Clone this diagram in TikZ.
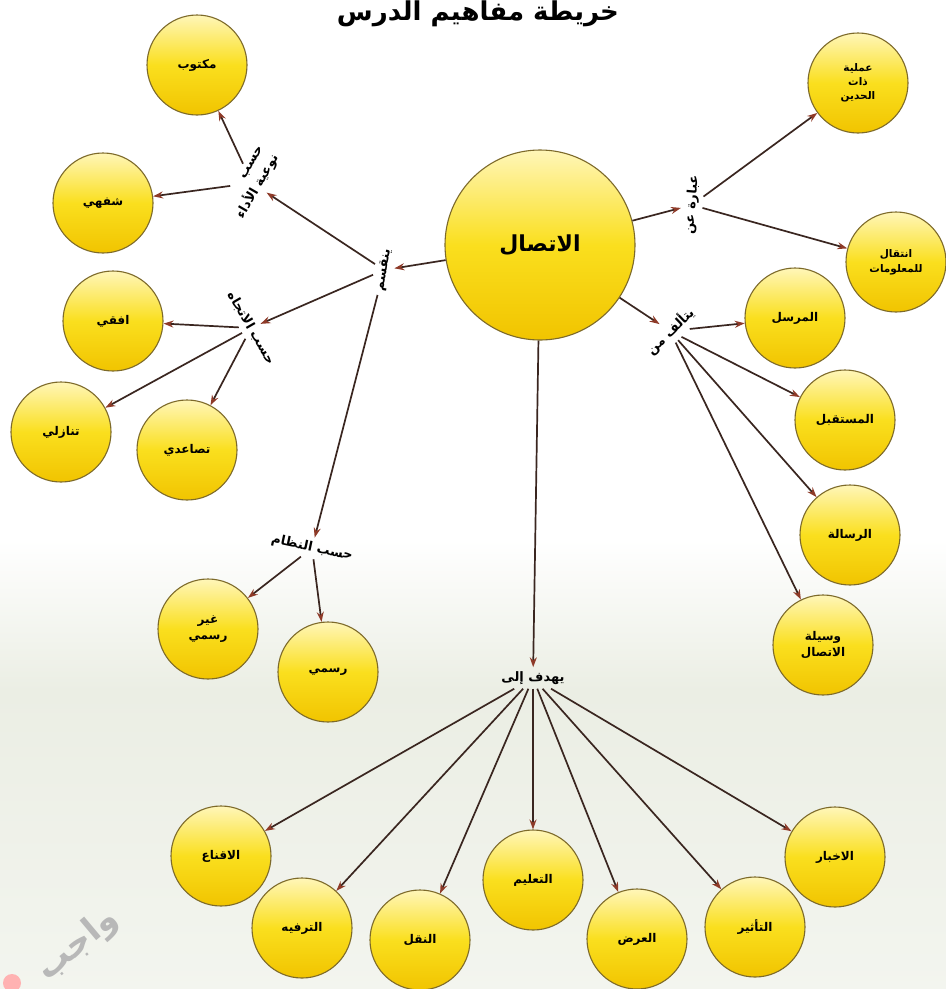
\documentclass[tikz,border=0pt]{standalone}
\usepackage{fontspec}
\TeXXeTstate=1
\newfontfamily\arabicfont[Script=Arabic]{DejaVu Sans}
\usetikzlibrary{arrows.meta}
\definecolor{ballTop}{HTML}{FFF6B8}
\definecolor{ballMid}{HTML}{FADF1E}
\definecolor{ballBot}{HTML}{F1C400}
\definecolor{ballRim}{HTML}{7D6A2A}
\definecolor{lineCol}{HTML}{3A2620}
\definecolor{tipCol}{HTML}{8E3A28}
\definecolor{paperTint}{HTML}{EBEEE4}
\newcommand{\artxt}[1]{{\arabicfont\bfseries\beginR #1\endR}}
\tikzset{
  ball/.style={circle, draw=ballRim, line width=1.1pt, minimum size=100pt, inner sep=0pt,
    top color=ballTop, bottom color=ballBot, middle color=ballMid, align=center,
    font=\fontsize{12}{16}\selectfont},
  bigball/.style={ball, minimum size=190pt, font=\fontsize{22}{25}\selectfont},
  lbl/.style={inner sep=4pt, align=center, font=\fontsize{13}{16}\selectfont, text=black},
  conn/.style={draw=lineCol, line width=1.7pt,
    -{Stealth[length=10pt, width=7pt, color=tipCol]}},
}
\begin{document}
\begin{tikzpicture}[x=1pt, y=-1pt]
\clip (0,0) rectangle (946,989);
\fill[white] (0,0) rectangle (946,989);
\shade[top color=white, bottom color=paperTint] (0,540) rectangle (946,690);
\shade[top color=paperTint, bottom color=white!40!paperTint] (0,690) rectangle (946,989);

% title
\node[anchor=base, font=\fontsize{26}{28}\selectfont] (title) at (478,20) {\artxt{خريطة مفاهيم الدرس}};

% watermark
\node[rotate=40, text=black!28, font=\fontsize{34}{38}\selectfont] (wm) at (78,945) {\artxt{واجب}};
\fill[red!30!white] (12,983) circle (9);

% center
\node[bigball] (ittisal) at (540,245) {\artxt{الاتصال}};

% left branch
\node[ball] (maktub) at (197,65) {\artxt{مكتوب}};
\node[ball] (shafahi) at (103,203) {\artxt{شفهي}};
\node[ball] (ofoqi) at (113,321) {\artxt{افقي}};
\node[ball] (tanazuli) at (61,432) {\artxt{تنازلي}};
\node[ball] (tasaudi) at (187,450) {\artxt{تصاعدي}};
\node[ball] (ghayr) at (208,629) {\artxt{غير}\\\artxt{رسمي}};
\node[ball] (rasmi) at (328,672) {\artxt{رسمي}};

% bottom
\node[ball] (iqna) at (221,856) {\artxt{الاقناع}};
\node[ball] (tarfih) at (302,928) {\artxt{الترفيه}};
\node[ball] (naql) at (420,940) {\artxt{النقل}};
\node[ball] (talim) at (533,880) {\artxt{التعليم}};
\node[ball] (ard) at (637,939) {\artxt{العرض}};
\node[ball] (tathir) at (755,927) {\artxt{التأثير}};
\node[ball] (ikhbar) at (835,857) {\artxt{الاخبار}};

% right
\node[ball, font=\fontsize{10.5}{14}\selectfont] (amaliya) at (858,83) {\artxt{عملية}\\\artxt{ذات}\\\artxt{الحدين}};
\node[ball, font=\fontsize{10.5}{15}\selectfont] (intiqal) at (896,262) {\artxt{انتقال}\\\artxt{للمعلومات}};
\node[ball] (mursil) at (795,318) {\artxt{المرسل}};
\node[ball] (mustaqbil) at (845,420) {\artxt{المستقبل}};
\node[ball] (risala) at (850,535) {\artxt{الرسالة}};
\node[ball] (wasila) at (823,645) {\artxt{وسيلة}\\\artxt{الاتصال}};

% labels
\node[lbl, rotate=80] (yanqasim) at (384,270) {\artxt{ينقسم}};
\node[lbl, rotate=60, align=right, font=\fontsize{13}{18}\selectfont] (naw) at (252,183) {\artxt{حسب}\\\artxt{نوعية الأداء}};
\node[lbl, rotate=-60] (ittijah) at (251,328) {\artxt{حسب الاتجاه}};
\node[lbl, rotate=-12] (nizam) at (312,548) {\artxt{حسب النظام}};
\node[lbl, rotate=85] (ibara) at (692,205) {\artxt{عبارة عن}};
\node[lbl, rotate=44] (yataallaf) at (670,331) {\artxt{يتألف من}};
\node[lbl] (yahdif) at (533,678) {\artxt{يهدف إلى}};

% connectors
\draw[conn] (ittisal) -- (yanqasim);
\draw[conn] (yanqasim) -- (naw);
\draw[conn] (yanqasim) -- (ittijah);
\draw[conn] (yanqasim) -- (nizam);
\draw[conn] (naw) -- (maktub);
\draw[conn] (naw) -- (shafahi);
\draw[conn] (ittijah) -- (ofoqi);
\draw[conn] (ittijah) -- (tanazuli);
\draw[conn] (ittijah) -- (tasaudi);
\draw[conn] (nizam) -- (ghayr);
\draw[conn] (nizam) -- (rasmi);

\draw[conn] (ittisal) -- (ibara);
\draw[conn] (ibara) -- (amaliya);
\draw[conn] (ibara) -- (intiqal);
\draw[conn] (ittisal) -- (yataallaf);
\draw[conn] (yataallaf) -- (mursil);
\draw[conn] (yataallaf) -- (mustaqbil);
\draw[conn] (yataallaf) -- (risala);
\draw[conn] (yataallaf) -- (wasila);

\draw[conn] (ittisal) -- (yahdif);
\draw[conn] (yahdif) -- (iqna);
\draw[conn] (yahdif) -- (tarfih);
\draw[conn] (yahdif) -- (naql);
\draw[conn] (yahdif) -- (talim);
\draw[conn] (yahdif) -- (ard);
\draw[conn] (yahdif) -- (tathir);
\draw[conn] (yahdif) -- (ikhbar);
\end{tikzpicture}
\end{document}
